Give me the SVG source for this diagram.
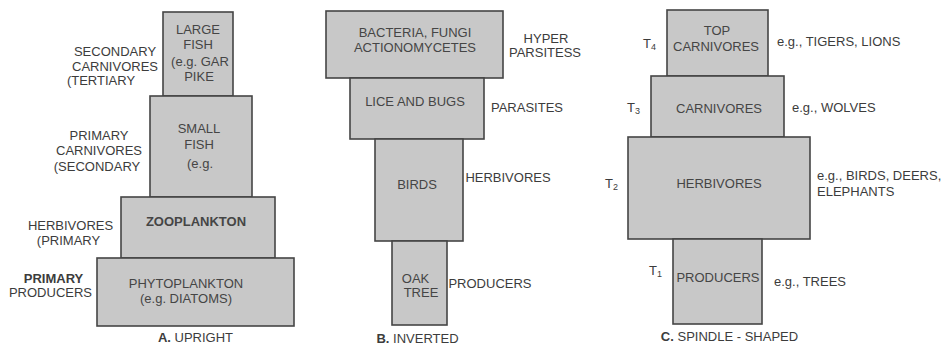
<svg xmlns="http://www.w3.org/2000/svg" width="941" height="345" viewBox="0 0 941 345">
<style>
.box{fill:#c8c8c8;stroke:#454545;stroke-width:1.6}
text{font-family:"Liberation Sans",Arial,sans-serif;font-size:13px;fill:#3c3c3c}
.in{fill:#454545;text-anchor:middle}
.c{text-anchor:middle}
.b{font-weight:bold}
.sub{font-size:9px}
</style>
<rect width="941" height="345" fill="#ffffff"/>

<!-- Panel A: Upright -->
<g id="a-large-fish">
<rect class="box" x="163" y="12" width="70" height="84"/>
<text class="in" x="198" y="34">LARGE</text>
<text class="in" x="198" y="49">FISH</text>
<text class="in" x="200" y="66">(e.g. GAR</text>
<text class="in" x="199" y="81">PIKE</text>
<text class="c" x="115" y="56">SECONDARY</text>
<text class="c" x="115" y="70.5">CARNIVORES</text>
<text class="c" x="101" y="85">(TERTIARY</text>
</g>
<g id="a-small-fish">
<rect class="box" x="150" y="96" width="102" height="101"/>
<text class="in" x="199" y="133">SMALL</text>
<text class="in" x="199" y="149">FISH</text>
<text class="in" x="200" y="168">(e.g.</text>
<text class="c" x="99" y="140">PRIMARY</text>
<text class="c" x="99" y="155">CARNIVORES</text>
<text class="c" x="97" y="171">(SECONDARY</text>
</g>
<g id="a-zooplankton">
<rect class="box" x="121" y="197" width="154" height="61"/>
<text class="in b" x="196" y="226">ZOOPLANKTON</text>
<text class="c" x="70.5" y="230">HERBIVORES</text>
<text class="c" x="68.5" y="245">(PRIMARY</text>
</g>
<g id="a-phytoplankton">
<rect class="box" x="97" y="258" width="197" height="68"/>
<text class="in" x="186" y="288">PHYTOPLANKTON</text>
<text class="in" x="186" y="303">(e.g. DIATOMS)</text>
<text class="c b" x="53.5" y="283">PRIMARY</text>
<text class="c" x="50.5" y="297">PRODUCERS</text>
</g>
<text class="c" x="195.5" y="342"><tspan class="b">A.</tspan> UPRIGHT</text>

<!-- Panel B: Inverted -->
<g id="b-bacteria">
<rect class="box" x="326" y="11" width="177" height="67"/>
<text class="in" x="415" y="37">BACTERIA, FUNGI</text>
<text class="in" x="415" y="52">ACTIONOMYCETES</text>
<text class="c" x="546" y="43">HYPER</text>
<text class="c" x="545" y="57">PARSITESS</text>
</g>
<g id="b-lice">
<rect class="box" x="350" y="78" width="134" height="61"/>
<text class="in" x="415" y="106">LICE AND BUGS</text>
<text class="c" x="527" y="112">PARASITES</text>
</g>
<g id="b-birds">
<rect class="box" x="375" y="139" width="88" height="102"/>
<text class="in" x="417" y="189">BIRDS</text>
<text class="c" x="508" y="182">HERBIVORES</text>
</g>
<g id="b-oak">
<rect class="box" x="392" y="241" width="55" height="84"/>
<text class="in" x="415.5" y="283">OAK</text>
<text class="in" x="421" y="297">TREE</text>
<text class="c" x="490" y="288">PRODUCERS</text>
</g>
<text class="c" x="417.5" y="343"><tspan class="b">B.</tspan> INVERTED</text>

<!-- Panel C: Spindle-shaped -->
<g id="c-top">
<rect class="box" x="667" y="10" width="101" height="66"/>
<text class="in" x="717" y="35">TOP</text>
<text class="in" x="716" y="51">CARNIVORES</text>
<text x="643" y="48">T<tspan class="sub" dy="2">4</tspan></text>
<text x="777" y="46">e.g., TIGERS, LIONS</text>
</g>
<g id="c-carnivores">
<rect class="box" x="651" y="76" width="133" height="61"/>
<text class="in" x="719" y="113">CARNIVORES</text>
<text x="627" y="112">T<tspan class="sub" dy="2">3</tspan></text>
<text x="792" y="112">e.g., WOLVES</text>
</g>
<g id="c-herbivores">
<rect class="box" x="628" y="137" width="182" height="102"/>
<text class="in" x="719" y="188">HERBIVORES</text>
<text x="605" y="188">T<tspan class="sub" dy="2">2</tspan></text>
<text x="817" y="180">e.g., BIRDS, DEERS,</text>
<text x="817" y="196">ELEPHANTS</text>
</g>
<g id="c-producers">
<rect class="box" x="673" y="239" width="89" height="85"/>
<text class="in" x="718" y="282">PRODUCERS</text>
<text x="649" y="275">T<tspan class="sub" dy="2">1</tspan></text>
<text x="774" y="286">e.g., TREES</text>
</g>
<text class="c" x="729.5" y="341"><tspan class="b">C.</tspan> SPINDLE - SHAPED</text>
</svg>
